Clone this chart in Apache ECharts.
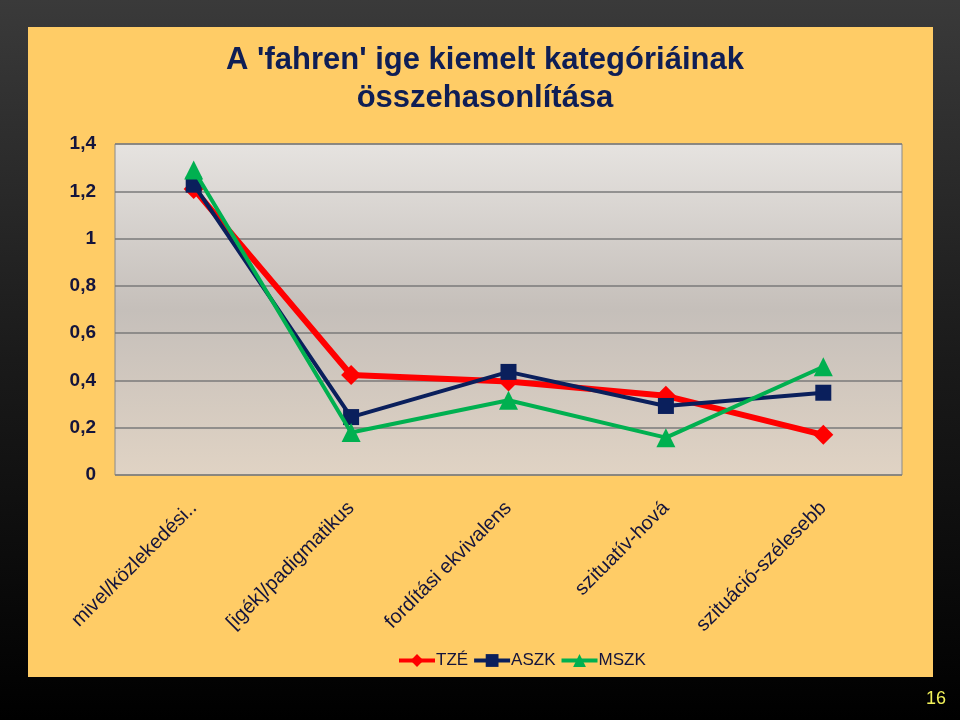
<!DOCTYPE html>
<html><head><meta charset="utf-8">
<script src="https://cdn.jsdelivr.net/npm/echarts@6/dist/echarts.min.js"></script>
<style>html,body{margin:0;padding:0;background:#000;}#c{width:960px;height:720px;}</style>
</head><body><div id="c"></div>
<script>
const titleText = "A 'fahren' ige kiemelt kategóriáinak\nösszehasonlítása";
const categories = ['mivel/közlekedési..', '[igék]/padigmatikus', 'fordítási ekvivalens', 'szituatív-hová', 'szituáció-szélesebb'];
const seriesNames = ['TZÉ', 'ASZK', 'MSZK'];
const tzeValues = [1.21, 0.423, 0.395, 0.335, 0.17];
const aszkValues = [1.228, 0.245, 0.436, 0.292, 0.348];
const mszkValues = [1.29, 0.18, 0.316, 0.158, 0.458];
const pageNumber = '16';

const chart = echarts.init(document.getElementById('c'));
const fmt = v => String(Math.round(v * 10) / 10).replace('.', ',');
const sans = "'Liberation Sans',Arial,sans-serif";
chart.setOption({
  animation: false,
  backgroundColor: {type: 'linear', x: 0, y: 0, x2: 0, y2: 1, colorStops: [
    {offset: 0, color: '#3a3a3a'}, {offset: 0.5, color: '#1a1a1a'}, {offset: 1, color: '#000000'}]},
  graphic: [
    {type: 'rect', shape: {x: 28, y: 27, width: 905, height: 650}, style: {fill: '#FFCC66'}, z: -10},
    {type: 'text', left: 926, top: 690, style: {text: pageNumber, fill: '#F2F25A', font: '18px ' + sans}}
  ],
  title: {
    text: titleText, left: 480, top: 36, textAlign: 'center',
    textStyle: {fontFamily: sans, fontSize: 31, fontWeight: 'bold', color: '#0F1E55', lineHeight: 38}
  },
  legend: {
    data: seriesNames, left: 392, top: 647, itemWidth: 36, itemHeight: 16, itemGap: 4,
    lineStyle: {width: 4},
    textStyle: {fontFamily: sans, fontSize: 17, color: '#14143C', padding: [0, 0, 0, -4]}
  },
  grid: {
    left: 115, top: 144, width: 787, height: 331, show: true, borderColor: '#8a8a8a', borderWidth: 1,
    backgroundColor: {type: 'linear', x: 0, y: 0, x2: 0, y2: 1, colorStops: [
      {offset: 0, color: '#E6E3E0'}, {offset: 0.5, color: '#C5BFBA'}, {offset: 1, color: '#E0D3C4'}]}
  },
  xAxis: {
    type: 'category', data: categories, boundaryGap: true,
    axisLine: {show: false}, axisTick: {show: false},
    axisLabel: {rotate: 45, margin: 30, interval: 0, fontFamily: sans, fontSize: 20, color: '#14143C'}
  },
  yAxis: {
    type: 'value', min: 0, max: 1.4, interval: 0.2,
    axisLine: {show: false}, axisTick: {show: false},
    splitLine: {lineStyle: {color: '#7a7a7a', width: 1.5}},
    axisLabel: {margin: 19, formatter: fmt, fontFamily: sans, fontSize: 19, fontWeight: 'bold', color: '#14143C'}
  },
  series: [
    {name: 'TZÉ', type: 'line', data: tzeValues, symbol: 'diamond', symbolSize: 20, color: '#FF0000',
     lineStyle: {width: 6, color: '#FF0000'}, itemStyle: {color: '#FF0000'}, z: 2},
    {name: 'ASZK', type: 'line', data: aszkValues, symbol: 'rect', symbolSize: 16, color: '#0A1F5C',
     lineStyle: {width: 4, color: '#0A1F5C'}, itemStyle: {color: '#0A1F5C'}, z: 3},
    {name: 'MSZK', type: 'line', data: mszkValues, symbol: 'triangle', symbolSize: 19, color: '#00B050',
     lineStyle: {width: 4, color: '#00B050'}, itemStyle: {color: '#00B050'}, z: 4}
  ]
});
</script></body></html>
